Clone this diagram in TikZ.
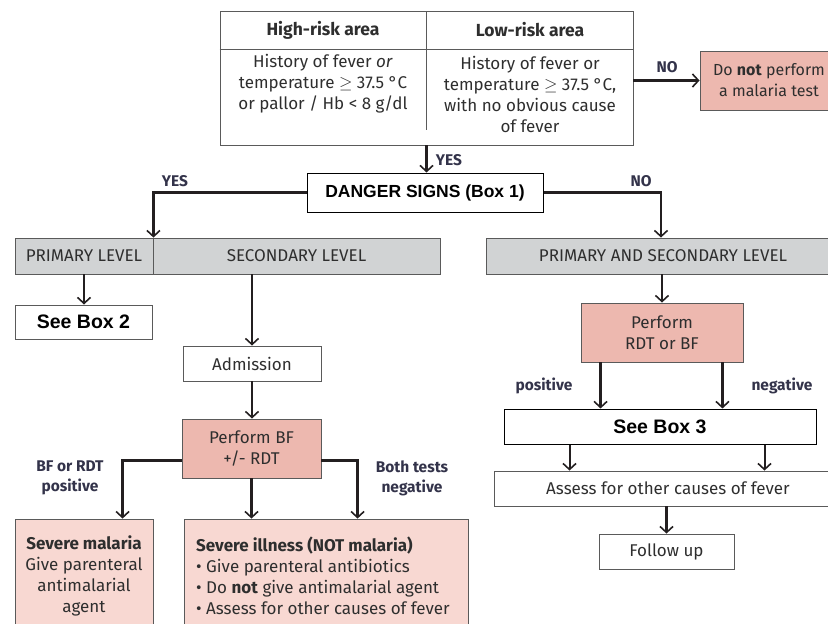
\documentclass[tikz,border=0pt]{standalone}
\usepackage{fontspec}
\setmainfont{Fira Sans}
\newfontfamily\arialf{Liberation Sans}
\usetikzlibrary{arrows.meta,calc}
\definecolor{dpink}{HTML}{EDB8AF}
\definecolor{lpink}{HTML}{F8D8D2}
\definecolor{lgray}{HTML}{D1D3D4}
\definecolor{txt}{HTML}{2E2E2E}
\definecolor{lbl}{HTML}{33334A}
\definecolor{edge}{HTML}{5A5A5A}
\definecolor{ink}{HTML}{231F20}
\tikzset{
  box/.style={draw=edge, line width=0.9pt, inner sep=0pt, text=txt, font=\fontsize{17}{21}\selectfont, align=center},
  abox/.style={draw=black, line width=1pt, fill=white, inner sep=0pt, font=\arialf\bfseries\fontsize{17.5}{21}\selectfont, align=center},
  pinkbox/.style={box, fill=dpink},
  lpinkbox/.style={box, fill=lpink},
  graybox/.style={box, fill=lgray},
  plain/.style={inner sep=0pt, text=txt, font=\fontsize{17}{21}\selectfont, align=center},
  lab/.style={inner sep=0pt, text=lbl, font=\bfseries\fontsize{15.5}{20}\selectfont, align=center},
  arr/.style={draw=ink, line width=2.6pt, -{Straight Barb[length=6pt,width=13pt,line width=1.6pt]}},
  tarr/.style={draw=ink, line width=2pt, -{Straight Barb[length=6pt,width=13pt,line width=1.6pt]}},
}
\begin{document}
\begin{tikzpicture}[x=1pt,y=-1pt]
\useasboundingbox (0,0) rectangle (828,624);
\clip (0,0) rectangle (828,624);

% top table
\node[box, minimum width=413, minimum height=134] (tbl) at (426.5,78) {};
\draw[edge, line width=0.9pt] (tbl.west |- 0,49) -- (tbl.east |- 0,49);
\draw[edge, line width=0.9pt] (426,11) -- (426,130);
\node[plain, font=\bfseries\fontsize{17.5}{21}\selectfont] (hh) at (323,30) {High-risk area};
\node[plain, font=\bfseries\fontsize{17.5}{21}\selectfont] (lh) at (530,30) {Low-risk area};
\node[plain] (hb) at (323,84) {History of fever \textit{or}\\temperature $\geq$ 37.5 °C\\or pallor / Hb < 8 g/dl};
\node[plain] (lb) at (530,94.5) {History of fever or\\temperature $\geq$ 37.5 °C,\\with no obvious cause\\of fever};

\node[pinkbox, minimum width=145, minimum height=59] (donot) at (772.5,80.5) {};
\node[plain, font=\fontsize{16}{21}\selectfont] (donott) at (769,80.5) {Do \textbf{not} perform\\a malaria test};
\draw[arr] (tbl.east |- donot.west) -- (donot.west);
\node[lab] at (667,67) {NO};

% danger
\node[abox, minimum width=236, minimum height=39] (danger) at (425,192.5) {DANGER SIGNS (Box 1)};
\draw[arr] (tbl.south) -- (tbl.south |- danger.north);
\node[lab] at (449,160) {YES};

% level bars
\node[graybox, minimum width=138, minimum height=36] (prim) at (84,256) {PRIMARY LEVEL};
\node[graybox, minimum width=287, minimum height=36] (sec) at (296.5,256) {SECONDARY LEVEL};
\node[graybox, minimum width=354, minimum height=36] (both) at (663,256) {PRIMARY AND SECONDARY LEVEL};

\draw[arr] (danger.west) -| (prim.north east);
\node[lab] at (175,181) {YES};
\coordinate (nt) at ($(both.north)+(-2,0)$);
\draw[arr] (danger.east) -| (nt);
\node[lab] at (641,181) {NO};

% left column
\node[abox, draw=edge, minimum width=137, minimum height=34, font=\arialf\bfseries\fontsize{19.5}{21}\selectfont] (box2) at (83.5,322) {See Box 2};
\draw[tarr] (prim.south) -- (prim.south |- box2.north);

\node[box, minimum width=138, minimum height=35] (adm) at (252,363.5) {Admission};
\draw[arr] (adm.north |- sec.south) -- (adm.north);

\node[pinkbox, minimum width=139, minimum height=59] (bf) at (251.5,448.5) {Perform BF\\+/- RDT};
\draw[arr] (adm.south) -- (adm.south |- bf.north);

\node[lpinkbox, minimum width=138, minimum height=121] (sm) at (84,579.5) {};
\node[plain] (smt) at (84,575.5) {\textbf{Severe malaria}\\Give parenteral\\antimalarial\\agent};
\node[lpinkbox, minimum width=284, minimum height=121] (si) at (326,579.5) {};
\node[plain, anchor=west, align=left] (sit) at (196,575.5) {\textbf{Severe illness (NOT malaria)}\\• Give parenteral antibiotics\\• Do \textbf{not} give antimalarial agent\\• Assess for other causes of fever};

\coordinate (bl) at ($(bf.west)+(0,12)$);
\coordinate (smin) at ($(sm.north west)+(108,0)$);
\coordinate (br) at ($(bf.east)+(0,12)$);
\coordinate (siin) at ($(si.north west)+(174,0)$);
\draw[arr] (bl) -| (smin);
\draw[arr] (bf.south) -- (bf.south |- si.north);
\draw[arr] (br) -| (siin);
\node[lab] at (70,478) {BF or RDT\\positive};
\node[lab] at (412,478) {Both tests\\negative};

% right column
\node[pinkbox, minimum width=162, minimum height=59] (rdt) at (662,332.5) {Perform\\RDT or BF};
\draw[arr] (both.south -| rdt.north) -- (rdt.north);

\node[abox, draw=black, minimum width=312, minimum height=35, font=\arialf\bfseries\fontsize{19.5}{21}\selectfont] (box3) at (660,426.5) {See Box 3};
\coordinate (rp) at ($(rdt.south west)+(20,0)$);
\coordinate (rn) at ($(rdt.south east)+(-21,0)$);
\draw[arr] (rp) -- (rp |- box3.north);
\draw[arr] (rn) -- (rn |- box3.north);
\node[lab] at (544,386) {positive};
\node[lab] at (782,386) {negative};

\node[box, minimum width=348, minimum height=35] (assess) at (668,488.5) {Assess for other causes of fever};
\coordinate (b3l) at ($(box3.south west)+(66,0)$);
\coordinate (b3r) at ($(box3.south west)+(261,0)$);
\draw[tarr] (b3l) -- (b3l |- assess.north);
\draw[tarr] (b3r) -- (b3r |- assess.north);

\node[box, minimum width=135, minimum height=35] (fu) at (666.5,551.5) {Follow up};
\draw[arr] (assess.south -| fu.north) -- (fu.north);
\end{tikzpicture}
\end{document}
